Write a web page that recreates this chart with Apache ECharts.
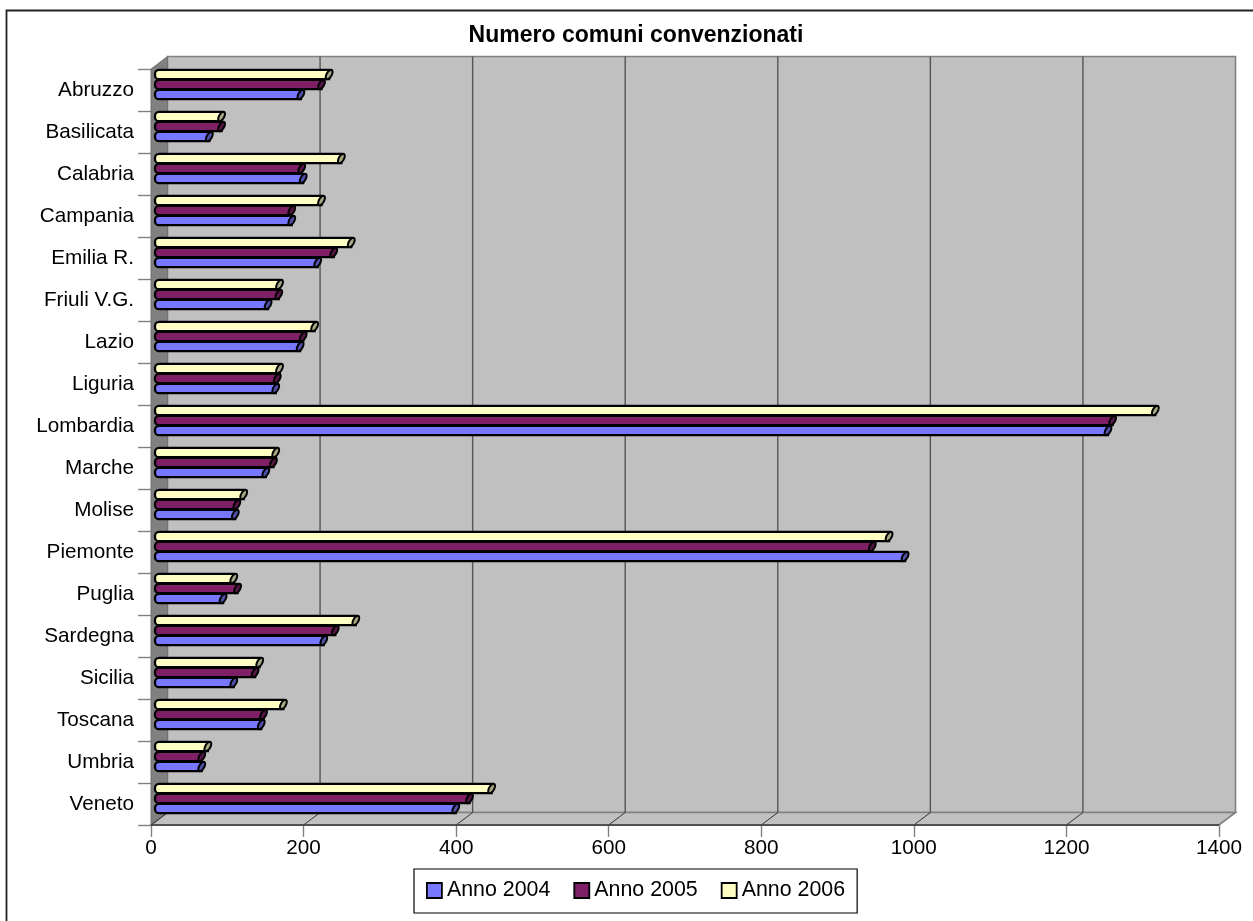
<!DOCTYPE html>
<html>
<head>
<meta charset="utf-8">
<style>html,body{margin:0;padding:0;background:#fff}#c{width:1253px;height:921px}</style>
<script src="https://cdn.jsdelivr.net/npm/echarts@6/dist/echarts.min.js"></script>
</head>
<body>
<div id="c"></div>
<script>
const categories = ['Abruzzo','Basilicata','Calabria','Campania','Emilia R.','Friuli V.G.','Lazio','Liguria','Lombardia','Marche','Molise','Piemonte','Puglia','Sardegna','Sicilia','Toscana','Umbria','Veneto'];
const anno2004 = [188,68,191,176,210,145,187,155,1246,142,102,980,86,218,100,136,58,391];
const anno2005 = [215,84,189,176,231,159,191,157,1252,152,104,937,105,233,128,139,58,409];
const anno2006 = [225,84,241,215,254,160,206,160,1308,155,113,959,100,260,134,165,66,438];
const valueTicks = [0,200,400,600,800,1000,1200,1400];

const DEPTH_X = 16.5, DEPTH_Y = -12.5;
const seriesDefs = [
  {name:'Anno 2004', values:anno2004, color:'#7777FF', cap:'#5050A8', slot:2},
  {name:'Anno 2005', values:anno2005, color:'#7F1F66', cap:'#551545', slot:1},
  {name:'Anno 2006', values:anno2006, color:'#FFFFC4', cap:'#A8A884', slot:0}
];

function wallRender(params, api){
  if (params.dataIndex !== 0) return;
  const o = api.coord([0, 0]), size = api.size([0, 1]);
  const band = size[1];
  const x0 = o[0], top = o[1] - band/2, bot = top + band*categories.length;
  const x1 = api.coord([1400, 0])[0];
  const c = [];
  const edge = {stroke:'#808080', lineWidth:1.6};
  c.push({type:'rect', shape:{x:x0+DEPTH_X, y:top+DEPTH_Y, width:x1-x0, height:bot-top}, style:{fill:'#C0C0C0', ...edge}});
  c.push({type:'polygon', shape:{points:[[x0,top],[x0+DEPTH_X,top+DEPTH_Y],[x0+DEPTH_X,bot+DEPTH_Y],[x0,bot]]}, style:{fill:'#808080', stroke:'#707070', lineWidth:1}});
  c.push({type:'polygon', shape:{points:[[x0,bot],[x0+DEPTH_X,bot+DEPTH_Y],[x1+DEPTH_X,bot+DEPTH_Y],[x1,bot]]}, style:{fill:'#C0C0C0', ...edge}});
  valueTicks.forEach(v => {
    const x = api.coord([v, 0])[0];
    if (v > 0 && v < 1400) c.push({type:'line', shape:{x1:x+DEPTH_X, y1:top+DEPTH_Y, x2:x+DEPTH_X, y2:bot+DEPTH_Y}, style:{stroke:'#555555', lineWidth:1.4}});
    c.push({type:'line', shape:{x1:x, y1:bot, x2:x+DEPTH_X, y2:bot+DEPTH_Y}, style:{stroke: v===1400?'#808080':'#333333', lineWidth:1}});
  });
  c.push({type:'line', shape:{x1:x0, y1:bot, x2:x1, y2:bot}, style:{stroke:'#404040', lineWidth:1.4}});
  return {type:'group', children:c};
}

function barRender(def){
  return function(params, api){
    const v = api.value(0), idx = api.value(1);
    const p = api.coord([v, idx]);
    const base = api.coord([0, idx]);
    const band = api.size([0, 1])[1];
    const bandTop = p[1] - band/2;
    const h = 9.4, yTop = bandTop + 0.8 + def.slot*10;
    const startX = base[0] + 4, endX = p[0] + 6.5;
    const cy = yTop + h/2;
    const pts = [];
    for (let i=0;i<28;i++){
      const t = i/28*Math.PI*2;
      pts.push([endX + 2.8*Math.cos(t) - 1.9*Math.sin(t), cy + (h/2)*Math.sin(t)]);
    }
    return {type:'group', children:[
      {type:'rect', shape:{x:startX, y:yTop, width:endX-startX, height:h, r:[4,0,0,4]},
       style:{fill:def.color, stroke:'#000', lineWidth:2.3}},
      {type:'polygon', shape:{points:pts}, style:{fill:def.cap, stroke:'#000', lineWidth:2}}
    ]};
  };
}

const chart = echarts.init(document.getElementById('c'), null, {renderer:'canvas'});
const font = '"Liberation Sans", Arial, sans-serif';
chart.setOption({
  animation:false,
  backgroundColor:'#fff',
  title:{text:'Numero comuni convenzionati', left:631, top:19, textAlign:'center',
    textStyle:{fontFamily:font, fontWeight:'bold', fontSize:23, color:'#000'}},
  legend:{left:414, top:869, orient:'horizontal', backgroundColor:'#fff', borderColor:'#000', borderWidth:1.2,
    padding:[11,12,12,12], itemGap:23, itemWidth:15, itemHeight:15, icon:'rect',
    data:seriesDefs.map(d=>d.name),
    textStyle:{fontFamily:font, fontSize:21.4, color:'#000', padding:[0,0,6,0]},
    itemStyle:{borderColor:'#000', borderWidth:1.8}},
  grid:{left:151, right:34, top:69, bottom:96, containLabel:false},
  xAxis:{type:'value', min:0, max:1400, interval:200,
    axisLine:{show:true, lineStyle:{color:'#404040'}},
    axisTick:{show:true, length:12, lineStyle:{color:'#808080', width:1.4}},
    splitLine:{show:false},
    axisLabel:{fontFamily:font, fontSize:20.7, color:'#000', margin:13, formatter:v=>String(v)}},
  yAxis:{type:'category', inverse:true, data:categories,
    axisLine:{show:true, lineStyle:{color:'#808080'}},
    axisTick:{show:true, length:13, lineStyle:{color:'#808080', width:1.4}},
    axisLabel:{fontFamily:font, fontSize:20.7, color:'#000', margin:17, interval:0, padding:[0,0,2,0]}},
  series:[
    {type:'custom', name:'wall', silent:true, renderItem:wallRender, clip:false, z:1,
      encode:{x:0,y:1}, data:[[0,0]]},
    ...seriesDefs.map(def=>({
      type:'custom', name:def.name, renderItem:barRender(def), clip:false, z:5,
      itemStyle:{color:def.color},
      encode:{x:0,y:1},
      data:def.values.map((v,i)=>[v,i])
    }))
  ],
  graphic:[
    {type:'polyline', shape:{points:[[6.5,921],[6.5,10.5],[1253,10.5]]}, style:{fill:'none', stroke:'#222', lineWidth:1.8}, silent:true}
  ]
});
</script>
</body>
</html>
